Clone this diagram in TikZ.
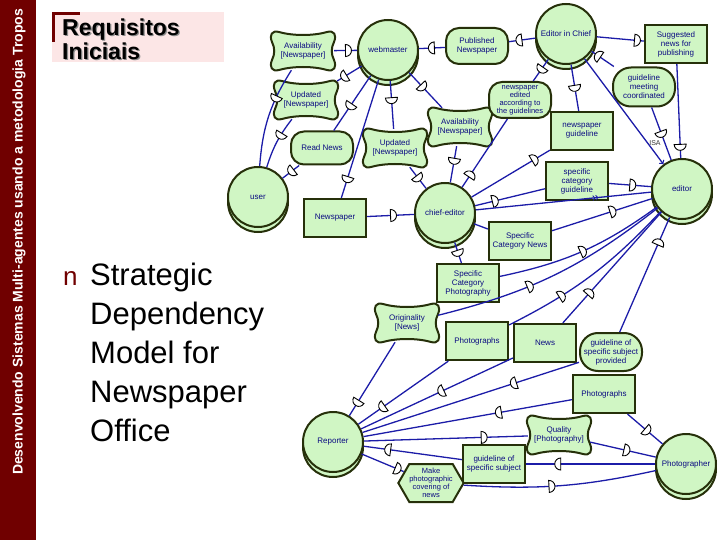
\documentclass[tikz,border=0pt]{standalone}
\usepackage{fontspec}
\setmainfont{Liberation Sans}
\usetikzlibrary{shapes.geometric, shapes.symbols, arrows, decorations.markings}

\definecolor{barred}{RGB}{112,0,0}
\definecolor{titlepink}{RGB}{252,230,230}
\definecolor{lgreen}{RGB}{208,246,196}
\definecolor{olivedark}{RGB}{38,48,10}
\definecolor{linkblue}{RGB}{28,28,168}
\definecolor{textblue}{RGB}{10,10,130}

\newcommand{\nodefont}{\fontsize{8}{9}\selectfont}
\newcommand{\smallnodefont}{\fontsize{7.5}{8}\selectfont}

\tikzset{
	pics/softshape/.style={code={
		\path[draw=olivedark, line width=2pt, fill=lgreen]
			(-24,-19) .. controls (-10,-15) and (10,-15) .. (24,-19)
			.. controls (31,-21) and (34,-16) .. (31,-9)
			.. controls (28,-3) and (28,3) .. (31,9)
			.. controls (34,16) and (31,21) .. (24,19)
			.. controls (10,15) and (-10,15) .. (-24,19)
			.. controls (-31,21) and (-34,16) .. (-31,9)
			.. controls (-28,3) and (-28,-3) .. (-31,-9)
			.. controls (-34,-16) and (-31,-21) .. (-24,-19) -- cycle;
	}}
}

\begin{document}
\begin{tikzpicture}[x=1pt, y=-1pt,
		actor/.style={circle, draw=olivedark, line width=2pt, fill=lgreen, minimum size=60pt, inner sep=0pt, font=\nodefont, text=textblue},
		actorbase/.style={circle, draw=olivedark, line width=2pt, fill=lgreen, minimum size=60pt, inner sep=0pt},
		goal/.style={rectangle, rounded corners=13pt, draw=olivedark, line width=2pt, fill=lgreen, minimum width=62pt, minimum height=36pt, inner sep=1pt, align=center, font=\nodefont, text=textblue},
		resource/.style={rectangle, draw=olivedark, line width=2.2pt, fill=lgreen, minimum width=62pt, minimum height=38pt, inner sep=1pt, align=center, font=\nodefont, text=textblue},
		softgoal/.style={rectangle, minimum width=62pt, minimum height=38pt, inner sep=1pt, align=center, font=\nodefont, text=textblue},
		task/.style={signal, signal to=west and east, signal pointer angle=120, draw=olivedark, line width=2pt, fill=lgreen, minimum width=62pt, minimum height=38pt, inner sep=0pt, align=center, font=\smallnodefont, text=textblue},
		link/.style={draw=linkblue, line width=1.3pt},
		dep/.style={semicircle, draw=black, fill=white, line width=0.9pt, minimum width=12pt, minimum height=0pt, inner sep=0pt, sloped, allow upside down, rotate=-90},
		depr/.style={dep, rotate=180},
		isalabel/.style={font=\fontsize{7}{7}\selectfont, text=black!80, inner sep=1pt}
	]
	\useasboundingbox (0,0) rectangle (720,540);

	% Slide frame
	\fill[barred] (0,0) rectangle (36,540);
	\node[rotate=90, text=white, font=\bfseries\fontsize{14}{14}\selectfont] (sidetitle) at (19,242) {Desenvolvendo Sistemas Multi-agentes usando a metodologia Tropos};
	\fill[titlepink] (52,12) rectangle (224,62);
	\draw[barred, line width=3pt] (53.5,42) -- (53.5,13.5) -- (80,13.5);
	\node[anchor=north west, inner sep=0pt, align=left, text=black!45, font=\bfseries\fontsize{23}{24.5}\selectfont] at (63.2,19.4) {Requisitos\\Iniciais};
	\node[anchor=north west, inner sep=0pt, align=left, font=\bfseries\fontsize{23}{24.5}\selectfont] (title) at (62,18.2) {Requisitos\\Iniciais};
	\node[anchor=base west, inner sep=0pt, text=barred, font=\fontsize{26}{26}\selectfont] (bullet) at (63,285) {n};
	\node[anchor=north west, inner sep=0pt, align=left, font=\fontsize{31}{39}\selectfont] (subtitle) at (90,262.4) {Strategic\\Dependency\\Model for\\Newspaper\\Office};
	\node[font=\bfseries\fontsize{11}{11}\selectfont] (pagenum) at (673,488) {7};

	% Actors
	\node[actorbase] at (388,55) {};
	\node[actor] (webmaster) at (388,50) {webmaster};
	\node[actorbase] at (566,39) {};
	\node[actor] (eic) at (566,34) {Editor in Chief};
	\node[actorbase] at (258,202) {};
	\node[actor] (user) at (258,197) {user};
	\node[actorbase] at (445,218) {};
	\node[actor] (chiefeditor) at (445,213) {chief-editor};
	\node[actorbase] at (682,194) {};
	\node[actor] (editor) at (682,189) {editor};
	\node[actorbase] at (333,447) {};
	\node[actor] (reporter) at (333,442) {Reporter};
	\node[actorbase] at (686,469) {};
	\node[actor] (photographer) at (686,464) {Photographer};

	% Softgoals
	\pic at (303,51) {softshape};
	\node[softgoal] (avail1) at (303,51) {Availability\\{[Newspaper]}};
	\pic at (306,100) {softshape};
	\node[softgoal] (upd1) at (306,100) {Updated\\{[Newspaper]}};
	\pic at (395,148) {softshape};
	\node[softgoal] (upd2) at (395,148) {Updated\\{[Newspaper]}};
	\pic at (460,127) {softshape};
	\node[softgoal] (avail2) at (460,127) {Availability\\{[Newspaper]}};
	\pic at (407,323) {softshape};
	\node[softgoal] (orig) at (407,323) {Originality\\{[News]}};
	\pic at (559,435) {softshape};
	\node[softgoal] (quality) at (559,435) {Quality\\{[Photography]}};

	% Goals
	\node[goal] (published) at (477,46) {Published\\Newspaper};
	\node[goal, minimum height=33pt] (readnews) at (322,148) {Read News};
	\node[goal, font=\smallnodefont] (edited) at (520,100) {newspaper\\edited\\according to\\the guidelines};
	\node[goal, rounded corners=18pt, minimum height=39pt] (meeting) at (644,87) {guideline\\meeting\\coordinated};
	\node[goal, rounded corners=18pt, minimum height=38pt] (provided) at (611,352) {guideline of\\specific subject\\provided};

	% Resources
	\node[resource] (newspaper) at (335,218) {Newspaper};
	\node[resource] (suggested) at (676,44) {Suggested\\news for\\publishing};
	\node[resource] (guideline) at (582,131) {newspaper\\guideline};
	\node[resource] (catguide) at (577,181) {specific\\category\\guideline};
	\node[resource] (catnews) at (520,241) {Specific\\Category News};
	\node[resource] (catphoto) at (468,283) {Specific\\Category\\Photography};
	\node[resource] (photos1) at (477,341) {Photographs};
	\node[resource] (news) at (545,343) {News};
	\node[resource] (photos2) at (604,394) {Photographs};
	\node[resource] (subject) at (494,464) {guideline of\\specific subject};

	% Task
	\node[task] (covering) at (431,483) {Make\\photographic\\covering of\\news};

	% Dependencies around webmaster and user
	\path[link] (avail1) -- node[dep, pos=0.6] {} (webmaster);
	\path[link] (webmaster) -- node[depr, pos=0.5] {} (published);
	\path[link] (published) -- node[depr, pos=0.4] {} (eic);
	\path[link] (eic) -- node[dep, pos=0.85] {} (suggested);
	\path[link] (webmaster) -- node[dep, pos=0.7] {} (upd1);
	\path[link] (webmaster) -- node[dep, pos=0.55] {} (readnews);
	\path[link] (webmaster) -- node[dep, pos=0.84] {} (newspaper);
	\path[link] (webmaster) -- node[dep, pos=0.4] {} (upd2);
	\path[link] (webmaster) -- node[dep, pos=0.4] {} (avail2);
	\path[link] (avail1) to[bend right=14] node[dep, pos=0.3] {} (user);
	\path[link] (upd1) to[bend right=10] node[dep, pos=0.35] {} (user);
	\path[link] (readnews) -- node[dep, pos=0.45] {} (user);

	% Dependencies around chief-editor
	\path[link] (newspaper) -- node[dep, pos=0.55] {} (chiefeditor);
	\path[link] (upd2) -- node[dep, pos=0.5] {} (chiefeditor);
	\path[link] (avail2) -- node[dep, pos=0.4] {} (chiefeditor);
	\path[link] (chiefeditor) -- node[dep, pos=0.18] {} (edited);
	\path[link] (chiefeditor) -- node[dep, pos=0.8] {} (guideline);
	\path[link] (chiefeditor) -- node[dep, pos=0.28] {} (catguide);
	\path[link, postaction={decorate}, decoration={markings, mark=at position 0.7 with {\arrow[line width=1pt]{>>}}}] (chiefeditor) -- (editor);
	\path[link] (catnews) -- (chiefeditor);
	\path[link] (chiefeditor) -- node[dep, pos=0.5] {} (catphoto);

	% Dependencies around editor
	\path[link] (catguide) -- node[dep, pos=0.55] {} (editor);
	\path[link] (catnews) -- node[dep, pos=0.6] {} (editor);
	\path[link] (catphoto) to[bend right=12] node[dep, pos=0.5] {} (editor);
	\path[link] (orig) to[bend right=12] node[dep, pos=0.38] {} (editor);
	\path[link] (photos1) to[bend right=10] node[dep, pos=0.3] {} (editor);
	\path[link] (news) -- node[dep, pos=0.27] {} (editor);
	\path[link] (provided) -- node[dep, pos=0.78] {} (editor);

	% Dependencies around Editor in Chief
	\path[link] (eic) -- node[dep, pos=0.45] {} (edited);
	\path[link] (eic) -- node[dep, pos=0.5] {} (guideline);
	\path[link] (meeting) -- node[dep, pos=0.7] {} (eic);
	\path[link] (meeting) -- node[dep, pos=0.5] {} (editor);
	\path[link] (suggested) -- node[dep, pos=0.88] {} (editor);
	\path[link, ->] (eic) -- node[isalabel, pos=0.8, anchor=west] {ISA} (editor);

	% Dependencies around Reporter and Photographer
	\path[link] (orig) -- node[dep, pos=0.82] {} (reporter);
	\path[link] (photos1) -- node[dep, pos=0.73] {} (reporter);
	\path[link] (news) -- node[dep, pos=0.47] {} (reporter);
	\path[link] (provided) -- node[dep, pos=0.3] {} (reporter);
	\path[link] (photos2) -- node[dep, pos=0.35] {} (reporter);
	\path[link] (quality) -- node[depr, pos=0.27] {} (reporter);
	\path[link] (subject) -- node[dep, pos=0.75] {} (reporter);
	\path[link] (reporter) -- node[dep, pos=0.85] {} (covering);
	\path[link] (covering) to[bend right=8] node[dep, pos=0.45] {} (photographer);
	\path[link] (photos2) -- node[dep, pos=0.55] {} (photographer);
	\path[link] (quality) -- node[dep, pos=0.55] {} (photographer);
	\path[link] (subject) -- node[depr, pos=0.25] {} (photographer);

\end{tikzpicture}
\end{document}
